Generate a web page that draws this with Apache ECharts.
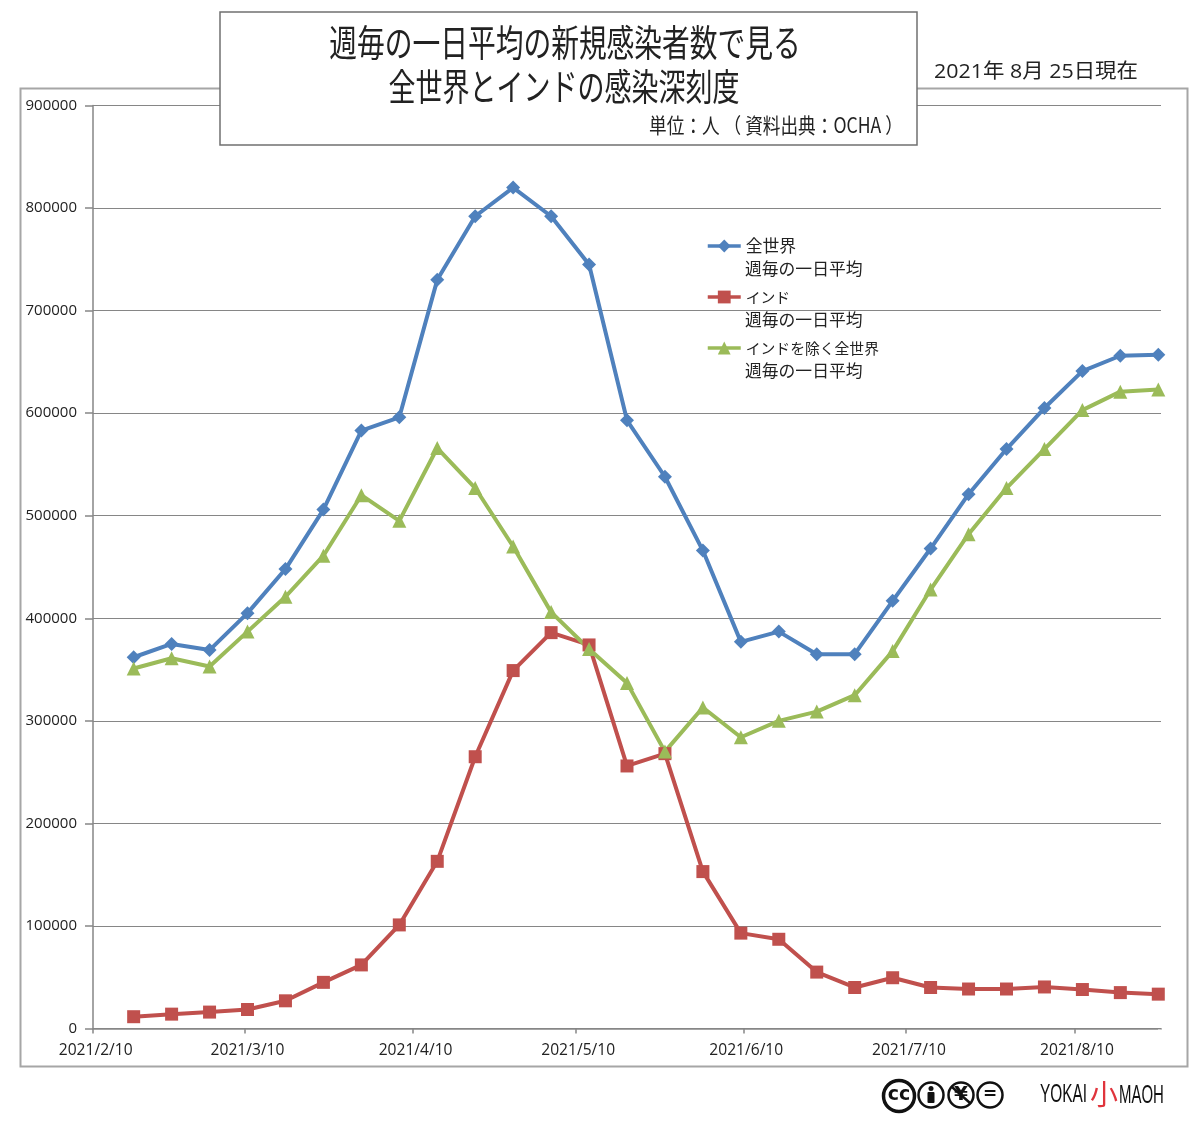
<!DOCTYPE html>
<html><head><meta charset="utf-8">
<style>html,body{margin:0;padding:0;background:#fff}#c{width:1200px;height:1124px}</style>
<script src="https://cdn.jsdelivr.net/npm/echarts@6/dist/echarts.min.js"></script>
</head><body><div id="c"></div>
<script>
const firstDay = '2021-02-10';
const lastDay = '2021-08-25';
const weekDates = ['2021-02-17','2021-02-24','2021-03-03','2021-03-10','2021-03-17','2021-03-24','2021-03-31','2021-04-07','2021-04-14','2021-04-21','2021-04-28','2021-05-05','2021-05-12','2021-05-19','2021-05-26','2021-06-02','2021-06-09','2021-06-16','2021-06-23','2021-06-30','2021-07-07','2021-07-14','2021-07-21','2021-07-28','2021-08-04','2021-08-11','2021-08-18','2021-08-25'];
const worldValues = [362000,375000,369000,405000,448000,506000,583000,596000,730000,792000,820000,792000,745000,593000,538000,466000,377000,387000,365000,365000,417000,468000,521000,565000,605000,641000,656000,657000];
const indiaValues = [11500,14000,16000,18500,27000,45000,62000,101000,163000,265000,349000,386000,374000,256000,268000,153000,93000,87000,55000,40000,49500,40000,38500,38500,40500,38000,35000,33500];
const exIndiaValues = [351000,361000,353000,387000,421000,461000,520000,495000,566000,527000,470000,406000,370000,337000,270000,313000,284000,300000,309000,325000,368000,428000,482000,527000,565000,603000,621000,623000];
const seriesNames = ['全世界','インド','インドを除く全世界'];
const legendSecondLine = '週毎の一日平均';
const titleLines = ['週毎の一日平均の新規感染者数で見る','全世界とインドの感染深刻度'];
const unitText = '単位：人 （ 資料出典：OCHA ）';
const dateText = '2021年 8月 25日現在';

const days = [];
for (let t = Date.parse(firstDay + 'T00:00:00Z'); t <= Date.parse(lastDay + 'T00:00:00Z'); t += 864e5) {
  days.push(new Date(t).toISOString().slice(0, 10));
}
const isTenth = (i, name) => name.slice(8) === '10';
const dayLabel = v => { const p = v.split('-'); return p[0] + '/' + (+p[1]) + '/' + (+p[2]); };
const FONT = '"Noto Sans CJK JP","Noto Sans",sans-serif';
const LATIN = '"Open Sans","Noto Sans CJK JP",sans-serif';
const GREY = '#868686';

function txt(x, y, text, size, opt) {
  opt = opt || {};
  return { type:'text', x, y, scaleX: opt.sx || 1, scaleY: opt.sy || 1, z: 50, silent:true,
    style:{ text, fontSize:size, fontFamily: opt.font || FONT, fontWeight: opt.w || 'normal',
      fill: opt.fill || '#222', align: opt.align || 'center', verticalAlign:'middle' } };
}
function ring(x, y, r, lw) {
  return { type:'circle', shape:{cx:x,cy:y,r}, z:50, silent:true, style:{fill:'#fff',stroke:'#111',lineWidth:lw} };
}
const NARROW = '"Liberation Sans Narrow","Liberation Sans",sans-serif';
const graphic = [
  { type:'rect', shape:{x:20.5,y:88.5,width:1167,height:978}, z:-1, silent:true, style:{fill:'none',stroke:'#a6a6a6',lineWidth:2} },
  { type:'rect', shape:{x:1158,y:1029.5,width:6,height:7}, z:40, silent:true, style:{fill:'#fff'} },
  { type:'rect', shape:{x:220,y:12,width:697,height:133}, z:40, silent:true, style:{fill:'#fff',stroke:'#707070',lineWidth:1.5} },
  txt(565, 43, titleLines[0], 37, {sx:0.75}),
  txt(564, 87, titleLines[1], 37, {sx:0.73}),
  txt(776, 125, unitText, 21, {sx:0.84}),
  txt(1036, 72.5, dateText, 20, {font:LATIN, sx:1.07}),
  txt(745, 268.5, legendSecondLine, 16.8, {align:'left'}),
  txt(745, 319.5, legendSecondLine, 16.8, {align:'left'}),
  txt(745, 371, legendSecondLine, 16.8, {align:'left'}),
  ring(899, 1096, 15.5, 3.5),
  txt(899, 1095, 'cc', 19, {font:'"DejaVu Sans",sans-serif', w:'bold', fill:'#111'}),
  ring(931, 1095, 12.5, 2.5),
  { type:'circle', shape:{cx:931,cy:1088.5,r:2.5}, z:51, silent:true, style:{fill:'#111'} },
  { type:'rect', shape:{x:927.5,y:1092,width:7,height:11,r:1}, z:51, silent:true, style:{fill:'#111'} },
  ring(961, 1095, 12.5, 2.5),
  txt(961, 1095, '¥', 20, {font:'"DejaVu Sans",sans-serif', w:'bold', fill:'#111'}),
  { type:'line', shape:{x1:952,y1:1087,x2:970,y2:1103}, z:51, silent:true, style:{stroke:'#111',lineWidth:2.5} },
  ring(990, 1095, 12.5, 2.5),
  txt(990, 1095, '=', 17, {font:'"DejaVu Sans",sans-serif', w:'bold', fill:'#111'}),
  txt(1040, 1095, 'YOKAI', 23, {font:NARROW, align:'left', sx:0.67, sy:1.1, fill:'#111'}),
  txt(1104, 1094, '小', 28, {fill:'#e0343c'}),
  txt(1119, 1096, 'MAOH', 23, {font:NARROW, align:'left', sx:0.65, sy:1.1, fill:'#111'})
];

function makeSeries(name, values, color, symbol, size) {
  return { name, type:'line', data: weekDates.map((d, i) => [d, values[i]]),
    symbol, symbolSize:size, showSymbol:true, showAllSymbol:true, smooth:false,
    lineStyle:{color, width:4}, itemStyle:{color}, emphasis:{disabled:true} };
}
const chart = echarts.init(document.getElementById('c'), null, {renderer:'canvas'});
chart.setOption({
  animation:false,
  backgroundColor:'#fff',
  textStyle:{fontFamily:FONT},
  grid:{left:93, right:39, top:105.5, bottom:95.5, containLabel:false},
  legend:{
    orient:'vertical', left:706, top:236, padding:0, itemWidth:33, itemHeight:16, itemGap:31, selectedMode:false,
    data: seriesNames, lineStyle:{width:3.5},
    formatter: n => n === seriesNames[0] ? '{w|' + n + '}' : '{k|' + n + '}',
    textStyle:{fontFamily:FONT, fontSize:16.8, color:'#222', lineHeight:20,
      rich:{
        w:{fontFamily:FONT, fontSize:16.8, color:'#222', lineHeight:20},
        k:{fontFamily:FONT, fontSize:14.8, color:'#222', lineHeight:20}
      }}
  },
  xAxis:{
    type:'category', data:days, boundaryGap:true,
    axisLine:{lineStyle:{color:GREY,width:1.5}},
    axisTick:{show:true, interval:isTenth, length:5, lineStyle:{color:GREY,width:1.5}, alignWithLabel:false},
    axisLabel:{interval:isTenth, formatter:dayLabel, fontFamily:LATIN, fontSize:15.6, color:'#222', margin:14, hideOverlap:false},
    splitLine:{show:false}
  },
  yAxis:{
    type:'value', min:0, max:900000, interval:100000,
    axisLine:{show:true, lineStyle:{color:GREY,width:1.5}},
    axisTick:{show:true, length:8, lineStyle:{color:GREY,width:1.5}},
    axisLabel:{formatter:v => String(v), fontFamily:LATIN, fontSize:15, color:'#222', margin:16},
    splitLine:{show:true, lineStyle:{color:GREY,width:1.2}}
  },
  series:[
    makeSeries(seriesNames[0], worldValues, '#4F81BD', 'diamond', 14),
    makeSeries(seriesNames[1], indiaValues, '#C0504D', 'rect', 13),
    makeSeries(seriesNames[2], exIndiaValues, '#9BBB59', 'triangle', 14)
  ],
  graphic
});
</script></body></html>
